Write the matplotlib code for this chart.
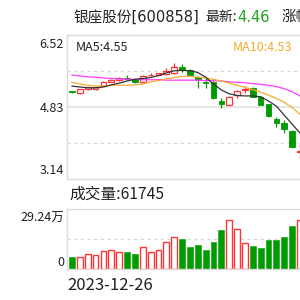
import matplotlib
matplotlib.use("Agg")
from matplotlib import pyplot as plt
from matplotlib.patches import Rectangle

plt.rcParams['font.family'] = ['Noto Sans CJK SC', 'DejaVu Sans']

# daily candles (visible window, left to right)
opens  = [5.20, 5.17, 5.25, 5.25, 5.33, 5.42, 5.46, 5.51, 5.48, 5.41,
          5.57, 5.57, 5.60, 5.62, 5.78, 5.70, 5.54, 5.42, 5.42, 4.97,
          4.88, 5.10, 5.23, 5.27, 5.07, 4.90, 4.56, 4.45, 4.27, 3.77]
closes = [5.18, 5.25, 5.29, 5.31, 5.42, 5.47, 5.51, 5.48, 5.41, 5.56,
          5.59, 5.62, 5.68, 5.78, 5.70, 5.57, 5.46, 5.39, 5.05, 4.90,
          5.07, 5.21, 5.26, 5.07, 4.88, 4.62, 4.45, 4.31, 3.88, 3.79]
highs  = [5.21, 5.26, 5.31, 5.32, 5.43, 5.49, 5.53, 5.58, 5.49, 5.57,
          5.62, 5.63, 5.74, 5.87, 5.84, 5.72, 5.56, 5.51, 5.43, 5.03,
          5.08, 5.22, 5.32, 5.30, 5.08, 4.91, 4.60, 4.53, 4.28, 4.02]
lows   = [5.17, 5.14, 5.24, 5.24, 5.32, 5.41, 5.45, 5.46, 5.40, 5.40,
          5.55, 5.56, 5.59, 5.60, 5.66, 5.55, 5.27, 5.28, 5.01, 4.81,
          4.87, 5.04, 5.17, 5.06, 4.87, 4.60, 4.37, 4.22, 3.86, 3.60]

# moving averages
ma5  = [5.32, 5.30, 5.28, 5.28, 5.30, 5.35, 5.39, 5.44, 5.48, 5.50,
        5.52, 5.57, 5.63, 5.68, 5.69, 5.68, 5.64, 5.53, 5.37, 5.23,
        5.14, 5.10, 5.09, 5.09, 5.07, 4.97, 4.85, 4.64, 4.43, 4.22]
ma10 = [5.41, 5.37, 5.34, 5.32, 5.32, 5.34, 5.34, 5.34, 5.35, 5.37,
        5.42, 5.45, 5.49, 5.52, 5.55, 5.55, 5.53, 5.51, 5.48, 5.44,
        5.39, 5.34, 5.29, 5.24, 5.18, 5.11, 5.03, 4.94, 4.82, 4.66]
ma20 = [5.58, 5.56, 5.54, 5.53, 5.51, 5.50, 5.49, 5.48, 5.48, 5.47,
        5.47, 5.47, 5.46, 5.46, 5.46, 5.46, 5.46, 5.45, 5.45, 5.44,
        5.42, 5.41, 5.40, 5.38, 5.36, 5.34, 5.31, 5.26, 5.19, 5.09]

# volume in 万
volumes = [6.0, 5.7, 7.3, 6.9, 8.8, 9.3, 8.5, 8.5, 7.3, 10.6,
           8.5, 9.3, 13.1, 15.5, 14.5, 10.6, 11.9, 9.3, 13.4, 18.8,
           23.7, 19.4, 12.6, 11.4, 10.1, 14.2, 14.2, 15.5, 21.1, 24.0]

price_ticks = [6.52, 4.83, 3.14]
vol_top = 29.24
first_date = "2023-12-26"

RED = '#ff3535'
GREEN = '#009b00'
GRID = '#d8d8d8'
BORDER = '#dcdcdc'
TXT = '#222222'
MIXED = ['DejaVu Sans', 'Noto Sans CJK SC']

fig = plt.figure(figsize=(3, 3), dpi=100)
W = H = 300.0

def fx(x):
    return x / W

def fy(y):
    return 1 - y / H

step = 7.86
x0 = 72.0
left_px, right_px = 67.0, 312.0
xlim = ((left_px - x0) / step, (right_px - x0) / step)

# price panel
ax = fig.add_axes([fx(left_px), fy(179), (right_px - left_px) / W, 144 / H])
ax.set_xlim(*xlim)
ax.set_ylim(price_ticks[2], price_ticks[0])
lo, hi = price_ticks[2], price_ticks[0]
q = (hi - lo) / 4
ax.axhline(hi - q, color=GRID, lw=0.8, ls=(0, (3, 3)), zorder=0)
ax.axhline(price_ticks[1], color='#e2e2e2', lw=1.2, zorder=0)
ax.axhline(lo + q, color=GRID, lw=0.8, ls=(0, (3, 3)), zorder=0)

w = 0.72
for i in range(len(opens)):
    o, c, h, l = opens[i], closes[i], highs[i], lows[i]
    up = c >= o
    col = RED if up else GREEN
    bot, top = min(o, c), max(o, c)
    ax.vlines(i, l, bot, color=col, lw=0.9, zorder=2)
    ax.vlines(i, top, h, color=col, lw=0.9, zorder=2)
    hgt = max(top - bot, 0.006)
    if up:
        ax.add_patch(Rectangle((i - w / 2, bot), w, hgt, facecolor='white',
                               edgecolor=col, lw=0.9, zorder=3))
    else:
        ax.add_patch(Rectangle((i - w / 2, bot), w, hgt, facecolor=col,
                               edgecolor=col, lw=0.6, zorder=3))

idx = list(range(len(opens)))
ax.plot(idx, ma20, color='#ff3cff', lw=0.9, zorder=4)
ax.plot(idx, ma10, color='#f5ac2e', lw=0.9, zorder=4)
ax.plot(idx, ma5, color='#333333', lw=0.9, zorder=4)

ax.set_xticks([])
ax.set_yticks([])
for s in ['top', 'left', 'bottom']:
    ax.spines[s].set_color(BORDER)
    ax.spines[s].set_linewidth(1.0)
ax.spines['right'].set_visible(False)

# volume panel
vax = fig.add_axes([fx(left_px), fy(269), (right_px - left_px) / W, 60 / H])
vax.set_xlim(*xlim)
vax.set_ylim(0, vol_top)
vax.axhline(vol_top / 2, color=GRID, lw=0.8, ls=(0, (3, 3)), zorder=0)
for i, v in enumerate(volumes):
    up = closes[i] >= opens[i]
    if up:
        vax.bar(i, v, width=0.74, facecolor='white', edgecolor=RED, lw=1.0,
                zorder=2)
    else:
        vax.bar(i, v, width=0.74, facecolor=GREEN, edgecolor='#2fb02f',
                lw=0.6, zorder=2)
vax.set_xticks([])
vax.set_yticks([])
for s in ['top', 'left', 'bottom']:
    vax.spines[s].set_color(BORDER)
    vax.spines[s].set_linewidth(1.0)
vax.spines['right'].set_visible(False)

# title: pieces laid out one after another
renderer = fig.canvas.get_renderer()
t = fig.text(fx(73), fy(17), "银座股份[600858]", fontsize=10.5, va='center',
             ha='left', color=TXT, family=MIXED)
t = fig.text(fx(205), fy(17), "最新:", fontsize=10, va='center',
             ha='left', color=TXT)
xpos = 205 + t.get_window_extent(renderer).width + 1
t = fig.text(fx(xpos), fy(17), "4.46", fontsize=10.5, va='center',
             ha='left', color='#1fa51f', family=MIXED)
xpos += t.get_window_extent(renderer).width + 11
fig.text(fx(xpos), fy(17), "涨幅", fontsize=10.5, va='center',
         ha='left', color=TXT)

fig.text(fx(76), fy(47), "MA5:4.55", fontsize=9, va='center', ha='left',
         color=TXT)
fig.text(fx(233), fy(47), "MA10:4.53", fontsize=9, va='center', ha='left',
         color='#f5ac2e')

fig.text(fx(64), fy(44), "%.2f" % price_ticks[0], fontsize=9, va='center',
         ha='right', color=TXT)
fig.text(fx(64), fy(108), "%.2f" % price_ticks[1], fontsize=9, va='center',
         ha='right', color=TXT)
fig.text(fx(64), fy(171), "%.2f" % price_ticks[2], fontsize=9, va='center',
         ha='right', color=TXT)

fig.text(fx(69), fy(194), "成交量:61745", fontsize=11.3, va='center',
         ha='left', color=TXT)
fig.text(fx(64), fy(218), "%.2f万" % vol_top, fontsize=9, va='center',
         ha='right', color=TXT)
fig.text(fx(64), fy(263), "0", fontsize=9, va='center', ha='right',
         color=TXT)
fig.text(fx(67), fy(285), first_date, fontsize=12, va='center', ha='left',
         color=TXT)

fig.savefig("out.png", dpi=100, facecolor='white')
